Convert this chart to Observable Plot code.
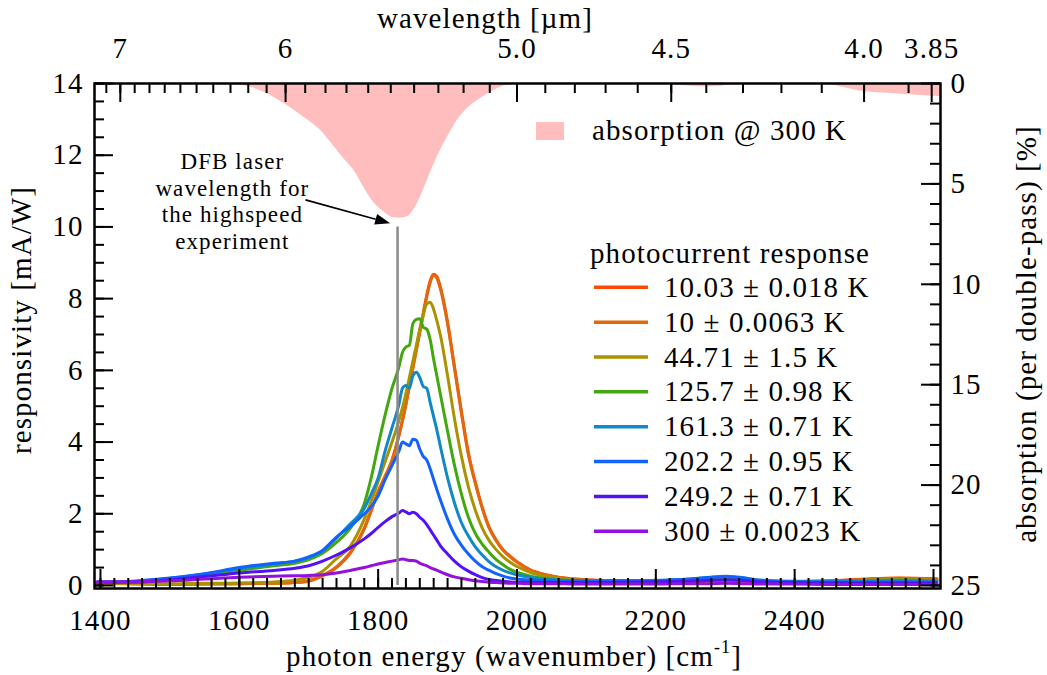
<!DOCTYPE html>
<html>
<head>
<meta charset="utf-8">
<script src="https://cdn.jsdelivr.net/npm/d3@7"></script>
<script src="https://cdn.jsdelivr.net/npm/@observablehq/plot@0.6"></script>
<style>
  body { margin: 0; background: #fff; }
  #chart svg text { letter-spacing: 1.1px; }
</style>
</head>
<body>
<div id="chart"></div>
<script>
// ---------------- data ----------------
const wavenumbers = [1395,1450,1500,1550,1600,1650,1680,1700,1720,1740,1760,1780,1790,1800,1810,1820,1830,1835,1840,1845,1850,1855,1860,1865,1870,1875,1880,1885,1890,1900,1910,1920,1930,1940,1950,1960,1970,1980,1990,2000,2020,2040,2060,2080,2100,2150,2200,2250,2275,2300,2325,2350,2400,2450,2500,2550,2605];

const seriesLabels = ["10.03 ± 0.018 K","10 ± 0.0063 K","44.71 ± 1.5 K","125.7 ± 0.98 K","161.3 ± 0.71 K","202.2 ± 0.95 K","249.2 ± 0.71 K","300 ± 0.0023 K"];
const seriesColors = ["#ff4a00","#e2680e","#aa9200","#43a80f","#1188c8","#1262ff","#5212f6","#9410de"];

const resp_10_03K = [0.07,0.05,0.03,0.04,0.05,0.06,0.08,0.13,0.28,0.52,0.92,1.58,2.08,2.62,3.03,3.48,4.18,4.6,5.05,5.57,6.08,6.6,7.1,7.6,8.1,8.5,8.68,8.6,8.3,7.35,6.1,4.85,3.7,2.88,2.18,1.62,1.27,1.0,0.82,0.66,0.43,0.31,0.23,0.19,0.16,0.13,0.11,0.11,0.12,0.14,0.13,0.11,0.11,0.13,0.18,0.21,0.19];
const resp_10K     = [0.06,0.04,0.03,0.04,0.05,0.06,0.08,0.12,0.27,0.5,0.9,1.6,2.1,2.6,3.05,3.5,4.2,4.6,5.05,5.55,6.05,6.55,7.05,7.55,8.05,8.45,8.65,8.55,8.25,7.3,6.05,4.8,3.65,2.85,2.15,1.6,1.25,0.98,0.8,0.65,0.42,0.3,0.22,0.18,0.15,0.12,0.1,0.1,0.12,0.14,0.12,0.1,0.1,0.12,0.17,0.2,0.18];
const resp_44K     = [0.07,0.06,0.05,0.06,0.07,0.1,0.15,0.23,0.4,0.75,1.1,1.85,2.35,2.9,3.45,4.0,4.6,4.95,5.35,5.8,6.25,6.7,7.15,7.55,7.85,7.9,7.7,7.35,6.95,5.85,4.65,3.6,2.75,2.1,1.6,1.25,1.0,0.8,0.65,0.53,0.36,0.26,0.2,0.16,0.14,0.12,0.11,0.12,0.14,0.16,0.14,0.11,0.1,0.12,0.15,0.17,0.15];
const resp_125K    = [0.08,0.1,0.17,0.27,0.42,0.55,0.62,0.72,0.9,1.2,1.6,2.28,3.0,3.9,4.75,5.5,6.1,6.5,6.65,6.7,7.3,7.42,7.44,7.2,7.15,6.85,6.3,5.8,5.3,4.3,3.35,2.55,1.9,1.45,1.15,0.92,0.72,0.58,0.45,0.37,0.26,0.2,0.16,0.14,0.13,0.12,0.12,0.14,0.17,0.2,0.17,0.13,0.11,0.12,0.14,0.15,0.13];
const resp_161K    = [0.09,0.12,0.2,0.32,0.48,0.6,0.68,0.78,0.97,1.33,1.72,2.15,2.55,3.0,3.75,4.4,5.05,5.5,5.58,5.5,5.85,5.95,5.8,5.55,5.5,5.1,4.7,4.3,3.85,3.0,2.3,1.75,1.38,1.08,0.85,0.66,0.52,0.42,0.35,0.3,0.22,0.18,0.15,0.14,0.13,0.13,0.14,0.18,0.22,0.26,0.22,0.15,0.12,0.12,0.12,0.13,0.12];
const resp_202K    = [0.09,0.12,0.21,0.33,0.5,0.62,0.68,0.8,0.98,1.35,1.65,2.0,2.2,2.5,2.95,3.35,3.75,4.0,3.95,3.9,4.08,4.05,3.8,3.6,3.5,3.25,2.95,2.65,2.37,1.85,1.42,1.12,0.88,0.68,0.52,0.42,0.33,0.26,0.21,0.18,0.15,0.13,0.12,0.12,0.12,0.13,0.14,0.18,0.22,0.25,0.21,0.14,0.1,0.09,0.09,0.1,0.09];
const resp_249K    = [0.1,0.1,0.16,0.25,0.35,0.42,0.48,0.55,0.68,0.85,1.05,1.3,1.45,1.62,1.78,1.92,2.02,2.09,2.05,2.0,2.04,2.0,1.9,1.82,1.7,1.55,1.4,1.25,1.1,0.88,0.68,0.52,0.4,0.3,0.22,0.17,0.14,0.12,0.1,0.09,0.08,0.08,0.08,0.08,0.08,0.09,0.1,0.12,0.14,0.16,0.14,0.1,0.08,0.07,0.07,0.07,0.06];
const resp_300K    = [0.1,0.1,0.13,0.18,0.23,0.26,0.27,0.28,0.3,0.35,0.42,0.5,0.55,0.6,0.64,0.68,0.72,0.74,0.72,0.7,0.7,0.68,0.62,0.58,0.55,0.5,0.46,0.42,0.38,0.3,0.24,0.2,0.16,0.13,0.11,0.09,0.08,0.07,0.06,0.06,0.05,0.05,0.05,0.04,0.04,0.04,0.04,0.05,0.05,0.06,0.05,0.04,0.04,0.03,0.03,0.03,0.03];

// absorption @ 300 K (percent, per double pass)
const absWavenumbers = [1391,1560,1587,1620,1664,1693,1717,1731,1750,1765,1779,1793,1808,1822,1832,1842,1851,1861,1871,1885,1900,1914,1929,1948,1967,1991,2010,2200,2230,2250,2270,2290,2310,2440,2470,2500,2540,2580,2610];
const absorption     = [0,0,0.02,0.23,0.98,1.68,2.33,2.9,3.72,4.32,5.15,5.9,6.39,6.69,6.71,6.64,6.31,5.65,4.82,3.66,2.66,1.83,1.23,0.73,0.33,0.05,0,0,0.08,0.14,0.17,0.15,0.06,0,0.2,0.4,0.5,0.6,0.65];
const absorptionColor = "#ffbdbd";

// axes
const xMajorTicks = [1400,1600,1800,2000,2200,2400,2600];
const topMajorUm = [7,6,5.0,4.5,4.0,3.85];
const topLabels = ["7","6","5.0","4.5","4.0","3.85"];
const leftMajorTicks = [0,2,4,6,8,10,12,14];
const rightMajorTicks = [0,5,10,15,20,25];
const respMax = 14, absMax = 25;

// DFB laser annotation
const laserWavenumber = 1828;
const laserTop = 10;
const annotationText = "DFB laser\nwavelength for\nthe highspeed\nexperiment";
const annotationAt = [1590, 10.74];
const arrowFrom = [1696, 10.74];
const arrowTo = [1818, 10.09];

// ---------------- layout ----------------
const W = 1047, H = 675;
const mTop = 83, mRight = 107, mBottom = 87, mLeft = 94;
const innerW = W - mLeft - mRight, innerH = H - mTop - mBottom;
const majorLen = 19, minorLen = 10;
const font = "'Liberation Serif', 'DejaVu Serif', serif";

const responses = [resp_10_03K, resp_10K, resp_44K, resp_125K, resp_161K, resp_202K, resp_249K, resp_300K];
const rows = seriesLabels.flatMap((s, k) => wavenumbers.map((w, i) => ({w, v: responses[k][i], s})));
const absToY = a => respMax - a * respMax / absMax;
const absRows = absWavenumbers.map((w, i) => ({w, a: absorption[i]}));

const xMinor = d3.range(1400, 2601, 20);
const topMinorWn = d3.range(39, 72).map(k => 1e4 / (k / 10));
const topMajorWn = topMajorUm.map(l => 1e4 / l);
const leftMinor = d3.range(0, 14.01, 0.5);
const rightMinorY = d3.range(0, 26).map(absToY);
const rightMajorY = rightMajorTicks.map(absToY);

const tick = {stroke: "black", strokeOpacity: 1, strokeWidth: 2};

const chart = Plot.plot({
  width: W, height: H,
  marginTop: mTop, marginRight: mRight, marginBottom: mBottom, marginLeft: mLeft,
  style: {fontFamily: font, fontSize: "29px", background: "white", color: "black", overflow: "visible"},
  x: {domain: [1391.4, 2610.1]},
  y: {domain: [-0.084, 14]},
  color: {domain: seriesLabels, range: seriesColors},
  marks: [
    Plot.areaY(absRows, {x: "w", y1: () => respMax, y2: d => absToY(d.a), fill: absorptionColor, curve: "monotone-x"}),
    Plot.line(rows, {x: "w", y: "v", z: "s", stroke: "s", strokeWidth: 3, curve: "monotone-x"}),
    Plot.ruleX([laserWavenumber], {y1: 0, y2: laserTop, stroke: "#8a8a8a", strokeWidth: 2.5}),
    Plot.text([annotationText], {x: () => annotationAt[0], y: () => annotationAt[1], text: d => d, fontSize: 23, lineHeight: 1.15, textAnchor: "middle"}),
    // inward ticks
    Plot.gridX(xMinor, {...tick, insetTop: innerH - minorLen}),
    Plot.gridX(xMajorTicks, {...tick, insetTop: innerH - majorLen}),
    Plot.gridX(topMinorWn, {...tick, insetBottom: innerH - minorLen}),
    Plot.gridX(topMajorWn, {...tick, insetBottom: innerH - majorLen}),
    Plot.gridY(leftMinor, {...tick, insetRight: innerW - minorLen}),
    Plot.gridY(leftMajorTicks, {...tick, insetRight: innerW - majorLen}),
    Plot.gridY(rightMinorY, {...tick, insetLeft: innerW - minorLen}),
    Plot.gridY(rightMajorY, {...tick, insetLeft: innerW - majorLen}),
    Plot.frame({stroke: "black", strokeWidth: 2.5}),
    // tick labels
    Plot.axisX(xMajorTicks, {anchor: "bottom", tickSize: 0, tickPadding: 21, label: null, tickFormat: d => String(d)}),
    Plot.axisX(topMajorWn, {anchor: "top", tickSize: 0, tickPadding: 26, label: null,
      tickFormat: d => topLabels[topMajorWn.findIndex(t => Math.abs(t - d) < 1e-6)]}),
    Plot.axisY(leftMajorTicks, {anchor: "left", tickSize: 0, tickPadding: 11, label: null, tickFormat: d => String(d)}),
    Plot.axisY(rightMajorY, {anchor: "right", tickSize: 0, tickPadding: 10, label: null,
      tickFormat: d => String(rightMajorTicks[rightMajorY.findIndex(t => Math.abs(t - d) < 1e-6)])})
  ]
});

document.getElementById("chart").appendChild(chart);

// ---------------- annotations, titles, legends ----------------
const svg = d3.select(chart);
const xs = chart.scale("x"), ys = chart.scale("y");
const X = v => xs.apply(v), Y = v => ys.apply(v);

// arrow with filled head
{
  const x1 = X(arrowFrom[0]), y1 = Y(arrowFrom[1]), x2 = X(arrowTo[0]), y2 = Y(arrowTo[1]);
  const ang = Math.atan2(y2 - y1, x2 - x1);
  const hl = 15, hw = 5.5;
  const bx = x2 - hl * Math.cos(ang), by = y2 - hl * Math.sin(ang);
  svg.append("line").attr("x1", x1).attr("y1", y1).attr("x2", bx).attr("y2", by)
    .attr("stroke", "black").attr("stroke-width", 1.6);
  const px = -Math.sin(ang), py = Math.cos(ang);
  svg.append("path")
    .attr("d", `M${x2},${y2}L${bx + hw * px},${by + hw * py}L${bx - hw * px},${by - hw * py}Z`)
    .attr("fill", "black");
}

const T = svg.append("g").attr("font-family", font).attr("font-size", 29).attr("fill", "black").attr("text-anchor", "start");

// axis titles
const xt = T.append("text").attr("x", 514).attr("y", 666).attr("text-anchor", "middle");
xt.append("tspan").text("photon energy (wavenumber) [cm");
xt.append("tspan").attr("font-size", 18).attr("dy", -13).text("-1");
xt.append("tspan").attr("dy", 13).text("]");
T.append("text").attr("x", 485).attr("y", 28).attr("text-anchor", "middle").text("wavelength [µm]");
T.append("text").attr("transform", "translate(31,320) rotate(-90)").attr("text-anchor", "middle").text("responsivity [mA/W]");
T.append("text").attr("transform", "translate(1036,334) rotate(-90)").attr("text-anchor", "middle").text("absorption (per double-pass) [%]");

// absorption legend
T.append("rect").attr("x", 536).attr("y", 122).attr("width", 28).attr("height", 18).attr("fill", absorptionColor);
T.append("text").attr("x", 592).attr("y", 140).attr("text-anchor", "start").text("absorption @ 300 K");

// photocurrent legend
T.append("text").attr("x", 590).attr("y", 263).attr("text-anchor", "start").text("photocurrent response");
seriesLabels.forEach((s, i) => {
  const y = 287.3 + 34.85 * i;
  T.append("line").attr("x1", 594).attr("x2", 648).attr("y1", y).attr("y2", y)
    .attr("stroke", seriesColors[i]).attr("stroke-width", 3.5);
  T.append("text").attr("x", 664).attr("y", y + 9.5).attr("text-anchor", "start").text(s);
});
</script>
</body>
</html>
